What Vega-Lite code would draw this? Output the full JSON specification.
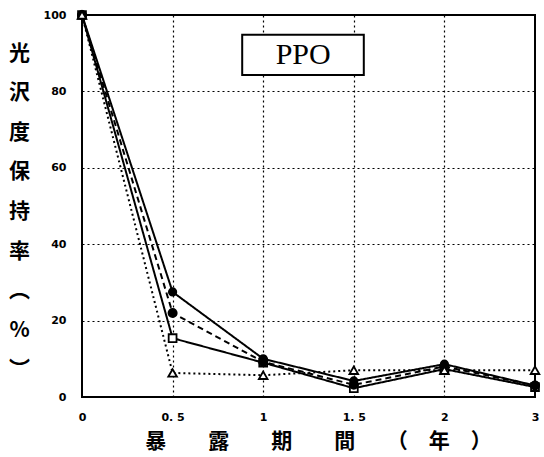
{
  "$schema": "https://vega.github.io/schema/vega-lite/v6.json",
  "width": 453,
  "height": 382,
  "autosize": "none",
  "padding": {"left": 82, "top": 15, "right": 9, "bottom": 60},
  "background": "white",
  "config": {
    "view": {"stroke": "black", "strokeWidth": 2},
    "axis": {"domain": false, "ticks": false, "grid": true, "gridColor": "black", "gridDash": [2, 3], "gridWidth": 1.2,
             "labelFont": "DejaVu Sans", "labelFontWeight": "bold", "labelFontSize": 11, "labelColor": "black",
             "titleFont": "Noto Sans CJK JP", "titleFontWeight": "bold", "titleFontSize": 21, "titleColor": "black"}
  },
  "data": {"values": [
    {"series": "A", "year": "0", "value": 100},
    {"series": "A", "year": "0.5", "value": 27.5},
    {"series": "A", "year": "1", "value": 10},
    {"series": "A", "year": "1.5", "value": 4.2},
    {"series": "A", "year": "2", "value": 8.6},
    {"series": "A", "year": "3", "value": 3},
    {"series": "B", "year": "0", "value": 100},
    {"series": "B", "year": "0.5", "value": 15.4},
    {"series": "B", "year": "1", "value": 9},
    {"series": "B", "year": "1.5", "value": 2.3},
    {"series": "B", "year": "2", "value": 7.3},
    {"series": "B", "year": "3", "value": 2.6},
    {"series": "C", "year": "0", "value": 100},
    {"series": "C", "year": "0.5", "value": 22},
    {"series": "C", "year": "1", "value": 9.2},
    {"series": "C", "year": "1.5", "value": 3.2},
    {"series": "C", "year": "2", "value": 8},
    {"series": "C", "year": "3", "value": 3},
    {"series": "D", "year": "0", "value": 100},
    {"series": "D", "year": "0.5", "value": 6.3},
    {"series": "D", "year": "1", "value": 5.7},
    {"series": "D", "year": "1.5", "value": 7},
    {"series": "D", "year": "2", "value": 7},
    {"series": "D", "year": "3", "value": 7}
  ]},
  "encoding": {
    "x": {"field": "year", "type": "ordinal", "sort": ["0", "0.5", "1", "1.5", "2", "3"],
          "scale": {"type": "point", "padding": 0, "domain": ["0", "0.5", "1", "1.5", "2", "3"]},
          "axis": {"labelAngle": 0, "labelPadding": 14, "labelExpr": "replace(datum.label, '.', '. ')",
                   "title": "暴　　露　　期　　間　　（　年　）", "titlePadding": 8, "titleX": 236, "titleAlign": "center",
                   "gridOpacity": {"condition": {"test": "datum.value == '0' || datum.value == '3'", "value": 0}, "value": 1}}},
    "y": {"field": "value", "type": "quantitative", "scale": {"domain": [0, 100], "nice": false},
          "axis": {"values": [0, 20, 40, 60, 80, 100], "labelPadding": 16,
                   "title": ["光", "沢", "度", "保", "持", "率", "︵", "%", "︶"],
                   "titleAngle": 0, "titleAlign": "center", "titleBaseline": "middle", "titleLineHeight": 39.6,
                   "titleX": -63, "titleY": 38,
                   "gridOpacity": {"condition": {"test": "datum.value == 0 || datum.value == 100", "value": 0}, "value": 1}}}
  },
  "layer": [
    {
      "mark": {"type": "line", "color": "black", "strokeWidth": 2},
      "encoding": {
        "detail": {"field": "series"},
        "strokeDash": {"field": "series", "type": "nominal", "legend": null,
                       "scale": {"domain": ["A", "B", "C", "D"], "range": [[1, 0], [1, 0], [6, 4], [2, 3]]}}
      }
    },
    {
      "mark": {"type": "point", "filled": true, "stroke": "black", "strokeWidth": 1.8, "opacity": 1},
      "encoding": {
        "shape": {"field": "series", "type": "nominal", "legend": null,
                  "scale": {"domain": ["A", "B", "C", "D"], "range": ["circle", "square", "circle", "triangle-up"]}},
        "size": {"field": "series", "type": "nominal", "legend": null,
                 "scale": {"domain": ["A", "B", "C", "D"], "range": [55, 75, 10, 45]}},
        "fill": {"field": "series", "type": "nominal", "legend": null,
                 "scale": {"domain": ["A", "B", "C", "D"], "range": ["black", "white", "black", "white"]}}
      }
    },
    {
      "data": {"values": [{"label": "PPO", "from": "1", "to": "1.5", "top": 94.8, "bottom": 84.3}]},
      "mark": {"type": "rect", "fill": "white", "stroke": "black", "strokeWidth": 2, "xOffset": -21, "x2Offset": 10},
      "encoding": {
        "x": {"field": "from", "type": "ordinal"},
        "x2": {"field": "to"},
        "y": {"field": "top", "type": "quantitative"},
        "y2": {"field": "bottom"}
      }
    },
    {
      "data": {"values": [{"label": "PPO", "at": "1", "mid": 89.5}]},
      "mark": {"type": "text", "font": "Liberation Serif", "fontSize": 30, "dx": 40, "baseline": "middle", "align": "center", "color": "black"},
      "encoding": {
        "x": {"field": "at", "type": "ordinal"},
        "y": {"field": "mid", "type": "quantitative"},
        "text": {"field": "label"}
      }
    }
  ]
}
